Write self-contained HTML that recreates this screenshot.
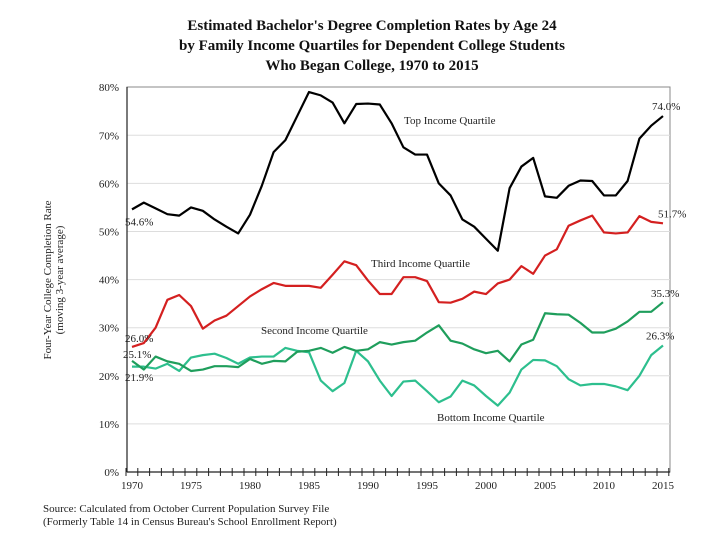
<!DOCTYPE html>
<html><head><meta charset="utf-8"><style>
body{margin:0;background:#fff;}
svg{display:block;font-family:"Liberation Serif",serif;}
</style></head><body>
<svg width="720" height="540" viewBox="0 0 720 540">
<g id="title" font-weight="bold" font-size="15" text-anchor="middle" fill="#111">
<text x="372" y="30">Estimated Bachelor's Degree Completion Rates by Age 24</text>
<text x="372" y="50">by Family Income Quartiles for Dependent College Students</text>
<text x="372" y="70">Who Began College, 1970 to 2015</text>
</g>
<rect x="127" y="87" width="543" height="385" fill="none" stroke="#888" stroke-width="1"/>
<g id="grid"></g>
<g id="axes"></g>
<g id="series"></g>
<g id="labels" font-size="11" fill="#222"></g>
<text transform="translate(51,280) rotate(-90)" text-anchor="middle" font-size="11" fill="#222"><tspan x="0" dy="0">Four-Year College Completion Rate</tspan><tspan x="0" dy="12">(moving 3-year average)</tspan></text>
<g font-size="11" fill="#222">
<text x="43" y="512">Source: Calculated from October Current Population Survey File</text>
<text x="43" y="525">(Formerly Table 14 in Census Bureau's School Enrollment Report)</text>
</g>
</svg>
<script>
const years=[];for(let y=1970;y<=2015;y++)years.push(y);
const topQ=[54.6,56,54.8,53.6,53.3,55,54.3,52.5,51,49.6,53.5,59.5,66.5,69,74,79,78.3,76.8,72.5,76.5,76.6,76.4,72.5,67.5,66,66,60,57.5,52.5,51,48.5,46,59,63.5,65.3,57.3,57,59.5,60.6,60.5,57.5,57.5,60.5,69.3,72,74];
const thirdQ=[26,26.8,30,35.8,36.8,34.5,29.8,31.5,32.5,34.5,36.5,38,39.3,38.7,38.7,38.7,38.3,41,43.8,43,39.8,37,37,40.5,40.5,39.7,35.3,35.2,36,37.5,37,39.2,40,42.8,41.2,45,46.3,51.2,52.3,53.3,49.8,49.6,49.8,53.2,52,51.7];
const secondQ=[23.1,21.3,24,23,22.5,21,21.3,22,22,21.8,23.5,22.5,23.1,23,25,25.2,25.8,24.8,26,25.2,25.5,27,26.5,27,27.3,29,30.5,27.3,26.7,25.5,24.7,25.2,23,26.5,27.5,33,32.8,32.7,31,29,29,29.8,31.3,33.3,33.3,35.3];
const bottomQ=[21.9,21.9,21.5,22.5,21,23.8,24.3,24.6,23.7,22.5,23.8,24,24,25.8,25.2,24.9,19,16.8,18.5,25.2,23,19,15.8,18.8,19,16.8,14.5,15.7,19,18,15.8,13.8,16.5,21.3,23.3,23.2,22,19.3,18,18.3,18.3,17.8,17,20,24.3,26.3];
const yTicks=[0,10,20,30,40,50,60,70,80];
const xLabels=[1970,1975,1980,1985,1990,1995,2000,2005,2010,2015];
const NS="http://www.w3.org/2000/svg";
const X=y=>132+11.8*(y-1970), Y=v=>472-4.81*v;
function mk(t,a,p){const e=document.createElementNS(NS,t);for(const k in a)e.setAttribute(k,a[k]);p.appendChild(e);return e;}
const grid=document.getElementById('grid'),axes=document.getElementById('axes'),ser=document.getElementById('series'),lab=document.getElementById('labels');
yTicks.forEach(v=>{
 if(v>0&&v<80){const g=mk('line',{x1:127,x2:670,y1:Y(v),y2:Y(v),stroke:'#ddd','stroke-width':1},grid);
 
 }
 const t=mk('text',{x:119,y:Y(v)+4,'text-anchor':'end','font-size':11,fill:'#222'},axes);t.textContent=v+'%';
 
 
});
mk('line',{x1:127,x2:127,y1:87,y2:472,stroke:'#222','stroke-width':1.2},axes);
mk('line',{x1:127,x2:670,y1:472,y2:472,stroke:'#222','stroke-width':1.2},axes);
for(let k=0;k<=years.length;k++){mk('line',{x1:126+11.8*k,x2:126+11.8*k,y1:468,y2:476,stroke:'#222','stroke-width':1},axes);}
xLabels.forEach(y=>{const t=mk('text',{x:X(y),y:489,'text-anchor':'middle','font-size':11,fill:'#222'},axes);t.textContent=y;
 
 });
function line(d,c,n){const p=mk('polyline',{points:d.map((v,i)=>X(years[i])+','+Y(v)).join(' '),fill:'none',stroke:c,'stroke-width':2.2,'stroke-linejoin':'round'},ser);
 
 }
line(bottomQ,'#2dbf8e','bottom-quartile-line');
line(secondQ,'#1f9e5c','second-quartile-line');
line(thirdQ,'#d42020','third-quartile-line');
line(topQ,'#000','top-quartile-line');
function txt(x,y,s,n,a){const t=mk('text',{x:x,y:y,'text-anchor':a||'start'},lab);t.textContent=s;
 
 }
txt(125,Y(topQ[0])+16,topQ[0].toFixed(1)+'%','top-start-label');
txt(125,Y(thirdQ[0])-5,thirdQ[0].toFixed(1)+'%','third-start-label');
txt(123,358,'25.1%','second-start-label');
txt(125,381,bottomQ[0].toFixed(1)+'%','bottom-start-label');
txt(652,Y(topQ[45])-6,topQ[45].toFixed(1)+'%','top-end-label');
txt(658,Y(thirdQ[45])-6,thirdQ[45].toFixed(1)+'%','third-end-label');
txt(651,Y(secondQ[45])-5,secondQ[45].toFixed(1)+'%','second-end-label');
txt(646,Y(bottomQ[45])-6,bottomQ[45].toFixed(1)+'%','bottom-end-label');
txt(404,124,'Top Income Quartile','top-series-label');
txt(371,267,'Third Income Quartile','third-series-label');
txt(261,334,'Second Income Quartile','second-series-label');
txt(437,421,'Bottom Income Quartile','bottom-series-label');
</script>
</body></html>
